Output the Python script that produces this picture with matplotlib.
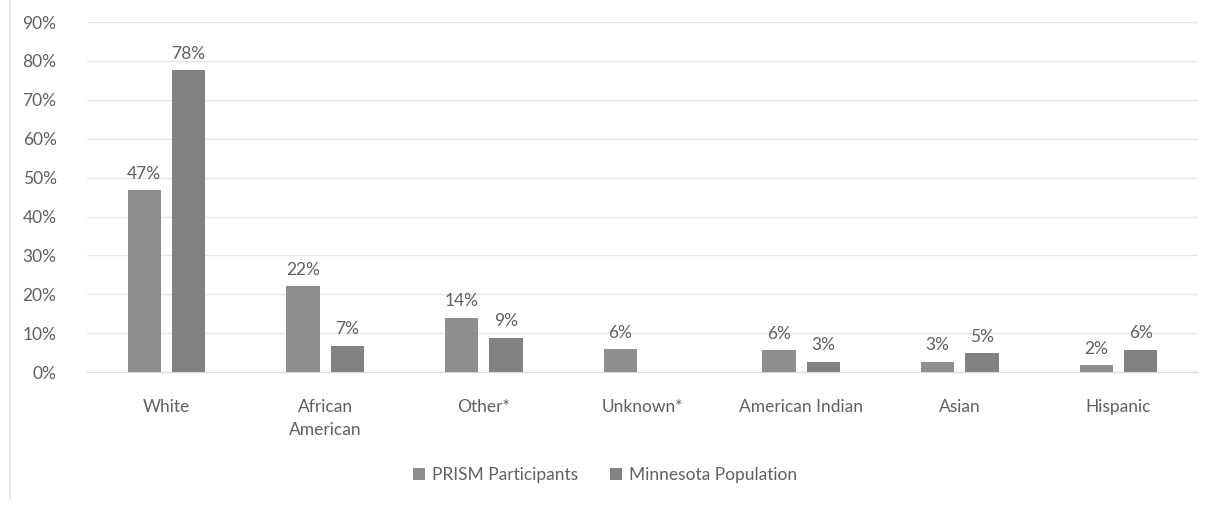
"""
PRISM participants vs Minnesota population by race / ethnicity
"""

import matplotlib
matplotlib.use("Agg")
import matplotlib.pyplot as plt
import numpy as np

categories = ["White", "African\nAmerican", "Other*", "Unknown*", "American Indian", "Asian", "Hispanic"]
prism = [46.8, 22.1, 14.0, 5.9, 5.6, 2.6, 1.8]
minnesota = [77.6, 6.8, 8.9, None, 2.6, 4.9, 5.7]
series_names = ["PRISM Participants", "Minnesota Population"]
yticks = [0, 10, 20, 30, 40, 50, 60, 70, 80, 90]

plt.rcParams['font.family'] = ['Lato', 'DejaVu Sans']
txt = '#606060'
fs = 12.5

fig = plt.figure(figsize=(12.1, 5.14), dpi=100)
ax = fig.add_axes([0.072, 0.276, 0.918, 0.681])

x = np.arange(len(categories))
w = 0.21
off = 0.14

p_vals = [v if v is not None else 0 for v in prism]
m_vals = [v if v is not None else 0 for v in minnesota]

b1 = ax.bar(x - off, p_vals, w, color='#8e8e8e', label=series_names[0], zorder=3)
b2 = ax.bar(x + off, m_vals, w, color='#828282', label=series_names[1], zorder=3)

# etiquettes des valeurs
for xi, v in zip(x - off, prism):
    if v is not None:
        ax.text(xi, v + 2.2, '{:.0f}%'.format(v), ha='center', va='bottom', fontsize=fs, color=txt)
for xi, v in zip(x + off, minnesota):
    if v is not None:
        ax.text(xi, v + 2.2, '{:.0f}%'.format(v), ha='center', va='bottom', fontsize=fs, color=txt)

ax.set_xlim(-0.5, len(categories) - 0.5)
ax.set_ylim(0, 90)
ax.set_yticks(yticks)
ax.set_yticklabels(['{}%'.format(t) for t in yticks])
ax.set_xticks(x)
ax.set_xticklabels(categories, linespacing=1.6)
ax.tick_params(axis='y', length=0, pad=22, labelsize=fs, labelcolor=txt)
ax.tick_params(axis='x', length=0, pad=19, labelsize=fs, labelcolor=txt)
ax.grid(axis='y', color='#e6e6e6', lw=1, zorder=0)
for s in ['top', 'right', 'left']:
    ax.spines[s].set_visible(False)
ax.spines['bottom'].set_color('#d9d9d9')

fig.legend(handles=[b1, b2], loc='center', bbox_to_anchor=(0.5, 0.076), ncol=2,
           frameon=False, fontsize=fs, labelcolor=txt, handlelength=0.7,
           handleheight=0.7, columnspacing=1.8, handletextpad=0.4)

# bordure gauche
fig.add_artist(plt.Line2D([0.008, 0.008], [0.03, 1.0], color='#e6e6e6', lw=1.2))

fig.savefig('out.png', dpi=100)
